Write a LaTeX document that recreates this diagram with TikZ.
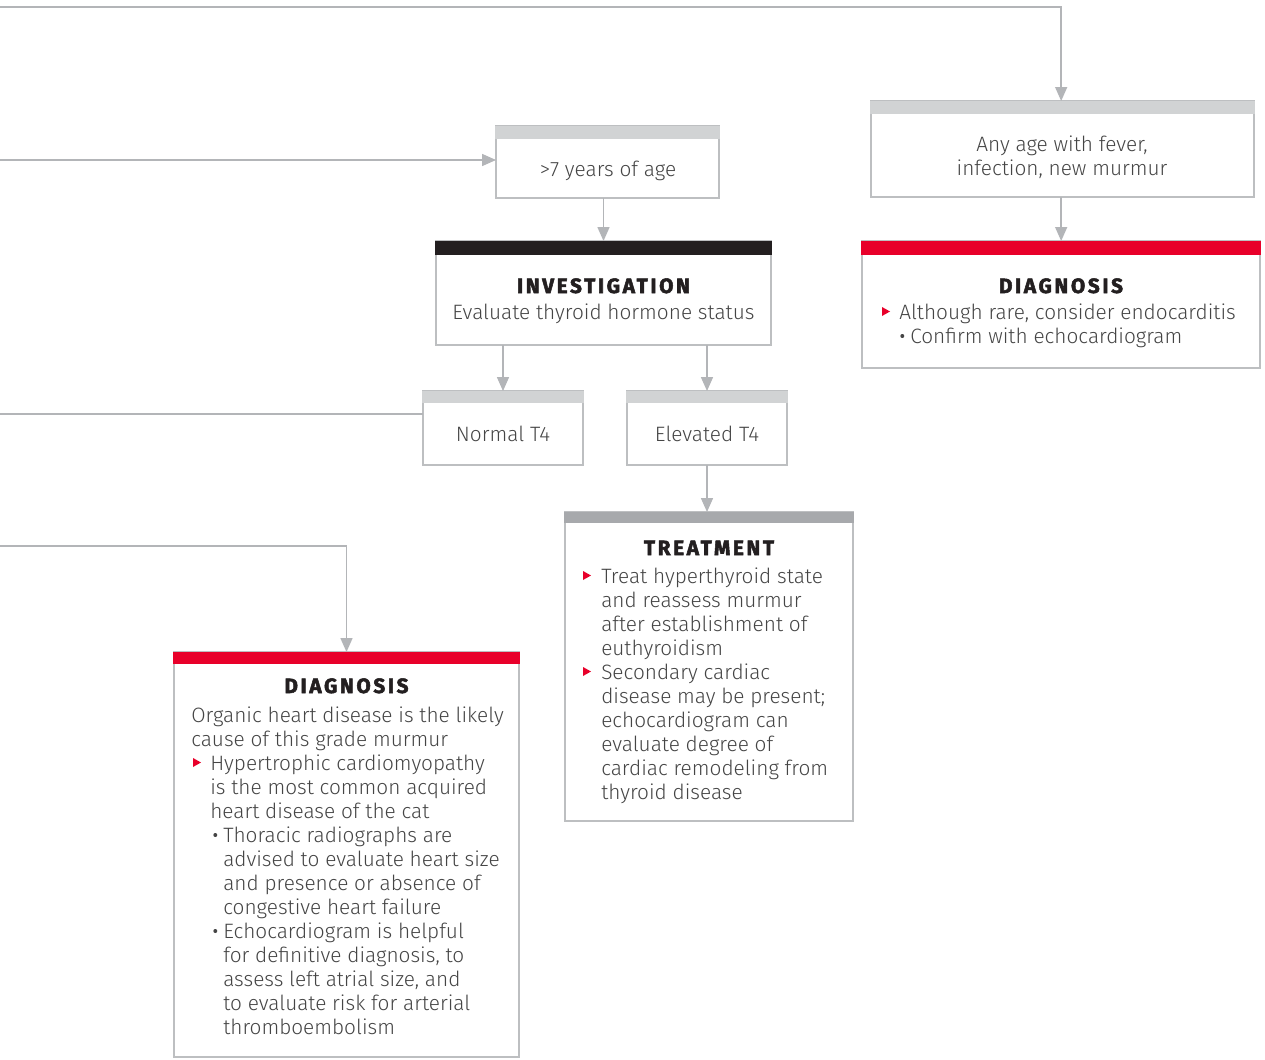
\documentclass[tikz,border=0pt]{standalone}
\usepackage{fontspec}
\setmainfont{Fira Sans}[UprightFont={* Light}, BoldFont={* Bold}]
\usetikzlibrary{arrows.meta,fit}
\definecolor{linegray}{HTML}{B3B5B8}
\definecolor{boxgray}{HTML}{BDBFC1}
\definecolor{hdrlight}{HTML}{D1D3D4}
\definecolor{hdrdark}{HTML}{A7A9AC}
\definecolor{hdrred}{HTML}{E8002A}
\definecolor{hdrblack}{HTML}{231F20}
\definecolor{txtgray}{HTML}{454545}
\newcommand\redtri[2]{\fill[hdrred] (#1,#2-12) -- (#1,#2-3) -- (#1+8,#2-7.5) -- cycle;}
\newcommand\graydot[2]{\fill[txtgray] (#1+2.3,#2-7) circle[radius=1.5pt];}
\begin{document}
\begin{tikzpicture}[x=0.75pt,y=-0.75pt,
  box/.style={draw=boxgray, line width=1.1pt, inner sep=0pt, outer sep=0pt},
  conn/.style={draw=linegray, line width=1.1pt},
  arr/.style={conn, -{Triangle[width=9pt,length=10.5pt]}, linegray},
  t/.style={anchor=base west, inner sep=0pt, text=txtgray, font=\fontsize{15.6}{18}\selectfont},
  tc/.style={t, anchor=base},
  ttl/.style={anchor=base, inner sep=0pt, text=hdrblack, font=\fontsize{15.5}{18}\selectfont\bfseries\addfontfeature{LetterSpace=13,FakeBold=2.5}}]
\fill[white] (0,0) rectangle (1265,1060);
\useasboundingbox (0,0) rectangle (1265,1060);

% boxes
\node[box, fit={(871,101)(1254,197)}] (any) {};
\fill[hdrlight] (870.3,100.5) rectangle (1254.7,114);
\node[box, fit={(862,241)(1260,368)}] (diagR) {};
\fill[hdrred] (861.3,240.5) rectangle (1260.7,255);
\node[box, fit={(496,126)(719,198)}] (age) {};
\fill[hdrlight] (495.3,125.5) rectangle (719.7,139);
\node[box, fit={(436,241)(771,345)}] (inv) {};
\fill[hdrblack] (435.3,240.5) rectangle (771.7,255);
\node[box, fit={(423,391)(583,465)}] (normal) {};
\fill[hdrlight] (422.3,390.5) rectangle (583.7,403);
\node[box, fit={(627,391)(787,465)}] (elev) {};
\fill[hdrlight] (626.3,390.5) rectangle (787.7,403);
\node[box, fit={(565,512)(853,821)}] (treat) {};
\fill[hdrdark] (564.3,511.5) rectangle (853.7,523);
\node[box, fit={(174,652)(519,1057)}] (diagL) {};
\fill[hdrred] (173.3,651.5) rectangle (519.7,664);

% connectors
\coordinate (c1) at (0,7);
\coordinate (c2) at (0,160);
\coordinate (c3) at (0,414);
\coordinate (c4) at (0,546);
\draw[arr] (c1) -| ([xshift=-1]any.north);
\draw[arr] ([xshift=-1]any.south) -- ([xshift=-1]any.south |- diagR.north);
\draw[arr] (c2) -- (c2 -| age.west);
\draw[arr] ([xshift=-3pt]age.south) -- ([xshift=-3pt]age.south |- inv.north);
\draw[arr] (normal.north |- inv.south) -- (normal.north);
\draw[arr] (elev.north |- inv.south) -- (elev.north);
\draw[conn] (c3) -- (c3 -| normal.west);
\draw[arr] (elev.south) -- (elev.south |- treat.north);
\draw[arr] (c4) -| (diagL.north);

% texts
\node[tc] (any1) at (1062,151) {Any age with fever,};
\node[tc] (any2) at (1062,175) {infection, new murmur};

\node[ttl] (drt) at (1061,293) {DIAGNOSIS};
\redtri{882}{319}
\node[t] (dr1) at (899,319) {Although rare, consider endocarditis};
\graydot{900}{343}
\node[t] (dr2) at (910,343) {Confirm with echocardiogram};

\node[tc] (age1) at (608,176) {>7 years of age};

\node[ttl] (invt) at (603.5,293) {INVESTIGATION};
\node[tc] (inv1) at (603.5,319) {Evaluate thyroid hormone status};

\node[tc] (n1) at (503,441) {Normal T4};
\node[tc] (e1) at (707,441) {Elevated T4};

\node[ttl] (trt) at (709,555) {TREATMENT};
\redtri{583}{583}
\foreach \s [count=\i from 0] in {Treat hyperthyroid state, and reassess murmur, after establishment of, euthyroidism}
  \node[t] (tra\i) at (601,583+24*\i) {\s};
\redtri{583}{679}
\foreach \s [count=\i from 0] in {Secondary cardiac, disease may be present;, echocardiogram can, evaluate degree of, cardiac remodeling from, thyroid disease}
  \node[t] (trb\i) at (601,679+24*\i) {\s};

\node[ttl] (dlt) at (346.5,693) {DIAGNOSIS};
\node[t] (dla0) at (191,722) {Organic heart disease is the likely};
\node[t] (dla1) at (191,746) {cause of this grade murmur};
\redtri{193}{770}
\foreach \s [count=\i from 0] in {Hypertrophic cardiomyopathy, is the most common acquired, heart disease of the cat}
  \node[t] (dlb\i) at (210,770+24*\i) {\s};
\graydot{213}{842}
\foreach \s [count=\i from 0] in {Thoracic radiographs are, advised to evaluate heart size, and presence or absence of, congestive heart failure}
  \node[t] (dlc\i) at (223,842+24*\i) {\s};
\graydot{213}{938}
\foreach \s [count=\i from 0] in {Echocardiogram is helpful, {for definitive diagnosis, to}, {assess left atrial size, and}, to evaluate risk for arterial, thromboembolism}
  \node[t] (dld\i) at (223,938+24*\i) {\s};
\end{tikzpicture}
\end{document}
